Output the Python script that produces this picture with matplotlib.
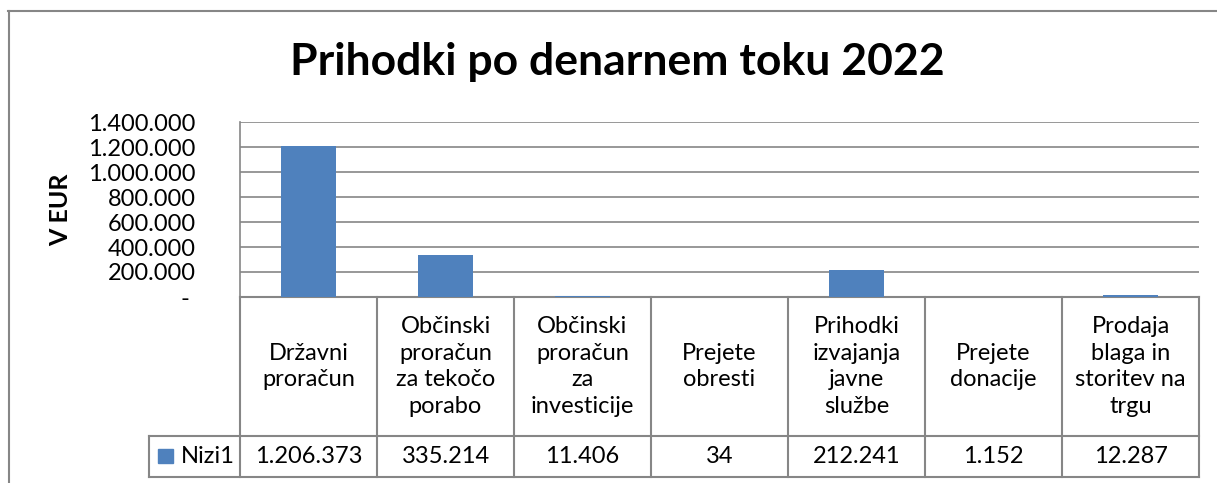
import matplotlib
matplotlib.use("Agg")
import matplotlib.pyplot as plt
from matplotlib.lines import Line2D
from matplotlib.patches import Rectangle
import matplotlib.transforms as mtransforms

# podatki
categories = ["Državni\nproračun", "Občinski\nproračun\nza tekočo\nporabo",
              "Občinski\nproračun\nza\ninvesticije", "Prejete\nobresti",
              "Prihodki\nizvajanja\njavne\nslužbe", "Prejete\ndonacije",
              "Prodaja\nblaga in\nstoritev na\ntrgu"]
values = [1206373, 335214, 11406, 34, 212241, 1152, 12287]
value_labels = ["1.206.373", "335.214", "11.406", "34", "212.241", "1.152", "12.287"]
series_name = "Nizi1"
yticks = [0, 200000, 400000, 600000, 800000, 1000000, 1200000, 1400000]
ytick_labels = ["- ", "200.000", "400.000", "600.000", "800.000",
                "1.000.000", "1.200.000", "1.400.000"]

bar_color = "#4F81BD"
line_color = "#868686"
plt.rcParams["font.family"] = ["Lato", "DejaVu Sans"]

W, H = 1217, 483
fig = plt.figure(figsize=(W / 100, H / 100), dpi=100)

# okvir grafikona
fig.add_artist(Line2D([8.5 / W, 8.5 / W], [0, 1 - 10.5 / H], color=line_color, lw=1.5))
fig.add_artist(Line2D([8 / W, 1], [1 - 10.5 / H, 1 - 10.5 / H], color=line_color, lw=1.5))

left, right, top, bottom = 240, 1199, 122, 297
ax = fig.add_axes([left / W, 1 - bottom / H, (right - left) / W, (bottom - top) / H])

x = range(len(values))
ax.bar(x, values, width=0.4, color=bar_color, zorder=3)
ax.set_xlim(-0.5, len(values) - 0.5)
ax.set_ylim(0, 1400000)
ax.set_yticks(yticks)
ax.set_yticklabels(ytick_labels, fontsize=17)
ax.tick_params(axis="y", length=0, pad=32)
ax.set_xticks([])
ax.grid(axis="y", color=line_color, lw=1.2, zorder=0)
for s in ["left", "top", "bottom"]:
    ax.spines[s].set_color(line_color)
    ax.spines[s].set_linewidth(1.2)
ax.spines["right"].set_visible(False)
ax.spines["top"].set_visible(False)
ax.set_ylabel("V EUR", fontsize=18, fontweight="bold")
ax.yaxis.set_label_coords(-(left - 72) / (right - left), 0.5)

fig.text(617 / W, 1 - 62 / H, "Prihodki po denarnem toku 2022", ha="center", va="center",
         fontsize=32, fontweight="bold")

# tabela podatkov
ph = bottom - top
h1 = -(436 - bottom) / ph
h2 = -(477 - bottom) / ph
trans = mtransforms.blended_transform_factory(ax.transData, ax.transAxes)
n = len(values)
kw = dict(color=line_color, lw=1.5, transform=trans, clip_on=False)
lx = -0.5 - (left - 149) / 137.0
ax.add_line(Line2D([-0.5, n - 0.5], [0, 0], **kw))
ax.add_line(Line2D([lx, n - 0.5], [h1, h1], **kw))
ax.add_line(Line2D([lx, n - 0.5], [h2, h2], **kw))
ax.add_line(Line2D([lx, lx], [h1, h2], **kw))
for i in range(n + 1):
    ax.add_line(Line2D([i - 0.5, i - 0.5], [0, h2], **kw))
for i in range(n):
    ax.text(i, h1 / 2, categories[i], transform=trans, ha="center", va="center",
            fontsize=17, linespacing=1.33)
    ax.text(i, (h1 + h2) / 2, value_labels[i], transform=trans, ha="center",
            va="center", fontsize=17)
ax.add_patch(Rectangle((158 / W, 1 - 463 / H), 15 / W, 14 / H, transform=fig.transFigure,
                       color=bar_color, clip_on=False))
ax.text(lx + (181 - 149) / 137.0, (h1 + h2) / 2, series_name, transform=trans,
        ha="left", va="center", fontsize=17)

fig.savefig("out.png", dpi=100)
